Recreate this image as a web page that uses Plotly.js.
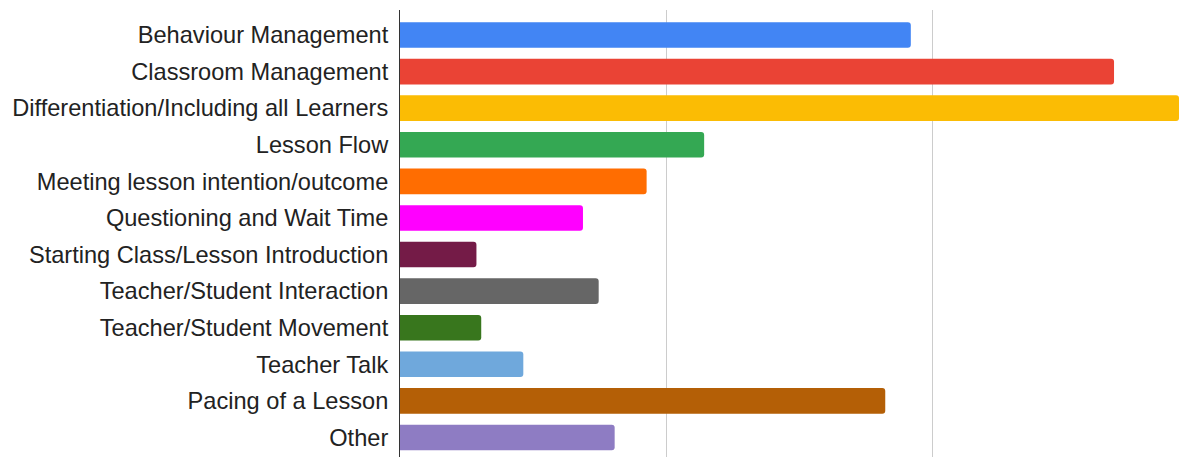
<!DOCTYPE html>
<html>
<head>
<meta charset="utf-8">
<script src="https://cdn.plot.ly/plotly-3.0.1.min.js"></script>
<style>html,body{margin:0;padding:0;background:#fff;}#chart{width:1187px;height:457px;}</style>
</head>
<body>
<div id="chart"></div>
<script>
const categories = [
  "Behaviour Management",
  "Classroom Management",
  "Differentiation/Including all Learners",
  "Lesson Flow",
  "Meeting lesson intention/outcome",
  "Questioning and Wait Time",
  "Starting Class/Lesson Introduction",
  "Teacher/Student Interaction",
  "Teacher/Student Movement",
  "Teacher Talk",
  "Pacing of a Lesson",
  "Other"
];
const values = [19.18, 26.81, 29.25, 11.42, 9.26, 6.87, 2.87, 7.46, 3.05, 4.63, 18.22, 8.06];
const colors = ["#4285F4", "#EA4335", "#FBBC04", "#34A853", "#FF6D01", "#FF00FF",
                "#741B47", "#666666", "#38761D", "#6FA8DC", "#B45F06", "#8E7CC3"];

const trace = {
  type: 'bar',
  orientation: 'h',
  y: categories,
  x: values,
  marker: {color: colors, line: {width: 0}},
  hoverinfo: 'x+y'
};

const layout = {
  width: 1187,
  height: 457,
  margin: {l: 400, r: 0, t: 10, b: 0, pad: 0},
  paper_bgcolor: '#ffffff',
  plot_bgcolor: '#ffffff',
  showlegend: false,
  bargap: 0.3,
  barcornerradius: 3,
  font: {family: '"Liberation Sans", Arial, sans-serif', size: 23.6, color: '#222222'},
  xaxis: {
    range: [0, 29.55],
    dtick: 10,
    tick0: 0,
    showticklabels: false,
    showgrid: true,
    gridcolor: '#cccccc',
    gridwidth: 1,
    zeroline: false,
    showline: false,
    fixedrange: true
  },
  yaxis: {
    type: 'category',
    range: [11.533, -0.683],
    showgrid: false,
    zeroline: false,
    showline: true,
    linecolor: '#333333',
    linewidth: 1,
    ticks: '',
    ticklabelstandoff: 6,
    automargin: false,
    tickfont: {family: '"Liberation Sans", Arial, sans-serif', size: 23.6, color: '#222222'},
    fixedrange: true
  }
};

Plotly.newPlot('chart', [trace], layout, {displayModeBar: false, staticPlot: true});
</script>
</body>
</html>
